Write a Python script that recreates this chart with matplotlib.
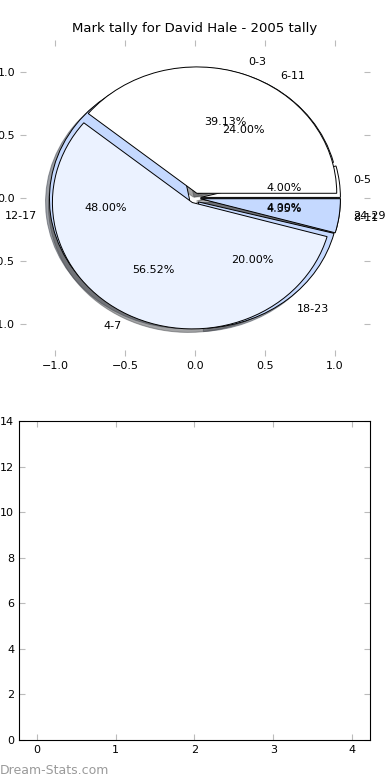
import matplotlib
matplotlib.use("Agg")
import matplotlib.pyplot as plt

# pie A: 2005 tally, 4-week groups
labels_a = ["0-3", "4-7", "8-11"]
counts_a = [9, 13, 1]
colors_a = ["#ffffff", "#ebf2ff", "#c5d9ff"]

# pie B: 6-week groups
labels_b = ["0-5", "6-11", "12-17", "18-23", "24-29"]
counts_b = [1, 6, 12, 5, 1]
colors_b = ["#ffffff", "#ebf2ff", "#c5d9ff", "#c5d9ff", "#ebf2ff"]

# empty bar panel underneath
bar_xticks = [0, 1, 2, 3, 4]
bar_yticks = [0, 2, 4, 6, 8, 10, 12, 14]

plt.rcParams["font.family"] = "DejaVu Sans"
plt.rcParams["font.size"] = 8

fig = plt.figure(figsize=(3.9, 7.8), dpi=100)

ax = fig.add_axes([0.0513, 0.5436, 0.897, 0.405])
wp = {"edgecolor": "black", "linewidth": 0.7}
tp = {"fontsize": 8}
ax.pie(counts_b, labels=labels_b, colors=colors_b, autopct="%1.2f%%",
       explode=[0.04] * len(counts_b), shadow=True, wedgeprops=wp, textprops=tp)
ax.pie(counts_a, labels=labels_a, colors=colors_a, autopct="%1.2f%%",
       explode=[0.04] * len(counts_a), shadow=True, wedgeprops=wp, textprops=tp)
ax.set_aspect("auto")
ax.set_xlim(-1.25, 1.25)
ax.set_ylim(-1.25, 1.25)
ax.set_xticks([-1.0, -0.5, 0.0, 0.5, 1.0])
ax.set_yticks([-1.0, -0.5, 0.0, 0.5, 1.0])
ax.set_frame_on(False)
ax.tick_params(direction="in", length=4, color="#bbbbbb", top=True, right=True,
               labelsize=8)
ax.set_title("Mark tally for David Hale - 2005 tally", fontsize=9.5)

ax2 = fig.add_axes([0.0487, 0.0513, 0.9, 0.409])
ax2.set_xlim(-0.23, 4.23)
ax2.set_ylim(0, 14)
ax2.set_xticks(bar_xticks)
ax2.set_yticks(bar_yticks)
ax2.tick_params(direction="in", length=4, color="#bbbbbb", top=True, right=True,
                labelsize=8)
for s in ax2.spines.values():
    s.set_linewidth(0.8)

fig.text(0.0, 0.0128, "Dream-Stats.com", color="#9a9a9a", fontsize=9,
         ha="left", va="center")

fig.savefig("out.png", dpi=100)
